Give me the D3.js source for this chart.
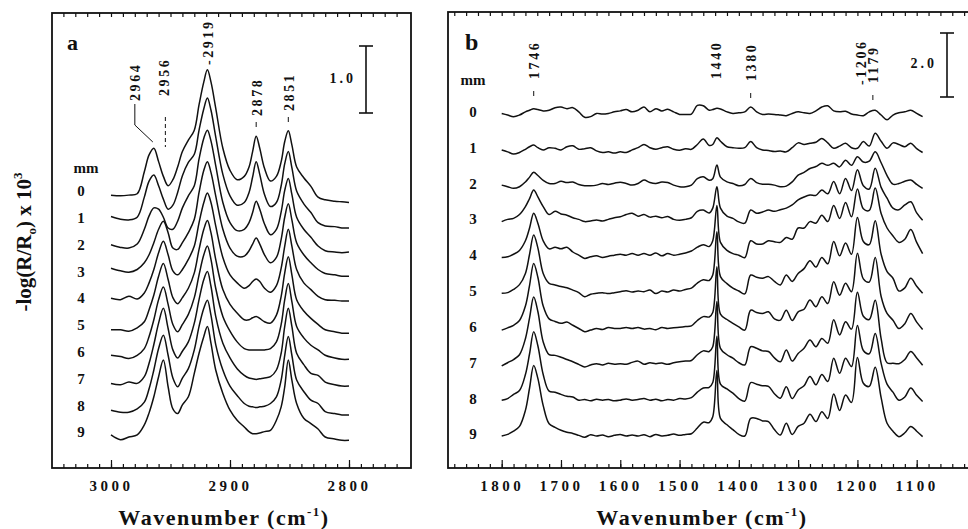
<!DOCTYPE html>
<html>
<head>
<meta charset="utf-8">
<script src="https://cdn.jsdelivr.net/npm/d3@7"></script>
<style>
  body { margin: 0; background: #fff; }
  svg text { font-family: "Liberation Serif", "Times New Roman", serif; font-weight: bold; fill: #111; }
</style>
</head>
<body>
<div id="chart"></div>
<script>
// Depth profile spectra

const depthLabels = ['0', '1', '2', '3', '4', '5', '6', '7', '8', '9'];

// Panel a: C-H stretching region (values relative to each trace's baseline)
const wavenumbersA = [
    3000, 2992, 2985, 2978, 2972, 2968, 2964, 2960, 2956, 2952,
    2948, 2944, 2940, 2935, 2930, 2926, 2922, 2919, 2916, 2912,
    2906, 2900, 2894, 2888, 2884, 2881, 2878, 2875, 2871, 2866,
    2861, 2857, 2854, 2851, 2848, 2844, 2838, 2832, 2826, 2820,
    2812, 2806, 2800
];

const spectraA = [
    [0.01, 0.00, 0.01, 0.03, 0.36, 0.61, 0.71, 0.51, 0.29, 0.15,
     0.24, 0.43, 0.66, 0.83, 0.98, 1.36, 1.70, 1.88, 1.70, 1.31,
     0.71, 0.38, 0.24, 0.29, 0.43, 0.66, 0.89, 0.71, 0.41, 0.22,
     0.29, 0.51, 0.81, 0.97, 0.76, 0.43, 0.27, 0.14, -0.02, -0.06,
     -0.08, -0.09, -0.10],
    [0.09, 0.05, 0.04, 0.08, 0.38, 0.62, 0.71, 0.55, 0.35, 0.20,
     0.26, 0.45, 0.70, 0.90, 1.02, 1.38, 1.70, 1.86, 1.68, 1.28,
     0.72, 0.40, 0.26, 0.30, 0.45, 0.68, 0.91, 0.72, 0.42, 0.24,
     0.30, 0.55, 0.88, 1.06, 0.82, 0.47, 0.28, 0.15, 0.00, -0.05,
     -0.06, -0.08, -0.08],
    [0.07, 0.03, 0.02, 0.08, 0.30, 0.50, 0.62, 0.60, 0.48, 0.32,
     0.30, 0.42, 0.62, 0.80, 0.95, 1.35, 1.66, 1.78, 1.62, 1.25,
     0.70, 0.40, 0.28, 0.30, 0.40, 0.55, 0.72, 0.60, 0.38, 0.22,
     0.30, 0.56, 0.88, 1.06, 0.82, 0.48, 0.30, 0.18, 0.05, -0.02,
     -0.04, -0.05, -0.04],
    [0.12, 0.08, 0.06, 0.10, 0.20, 0.32, 0.50, 0.70, 0.82, 0.65,
     0.42, 0.40, 0.50, 0.65, 0.85, 1.25, 1.58, 1.71, 1.55, 1.20,
     0.70, 0.42, 0.30, 0.30, 0.38, 0.48, 0.57, 0.48, 0.32, 0.20,
     0.28, 0.55, 0.88, 1.08, 0.84, 0.50, 0.32, 0.20, 0.10, 0.04,
     0.02, 0.00, 0.00],
    [0.07, 0.05, 0.10, 0.06, 0.15, 0.30, 0.50, 0.75, 0.92, 0.72,
     0.48, 0.42, 0.50, 0.65, 0.85, 1.20, 1.50, 1.64, 1.50, 1.15,
     0.68, 0.42, 0.30, 0.22, 0.26, 0.32, 0.36, 0.32, 0.22, 0.16,
     0.26, 0.52, 0.85, 1.10, 0.85, 0.50, 0.30, 0.20, 0.10, 0.05,
     0.04, 0.03, 0.03],
    [0.00, 0.00, -0.02, 0.03, 0.12, 0.30, 0.52, 0.80, 0.99, 0.75,
     0.48, 0.39, 0.48, 0.62, 0.85, 1.20, 1.50, 1.63, 1.45, 1.05,
     0.60, 0.38, 0.25, 0.15, 0.15, 0.18, 0.20, 0.17, 0.12, 0.10,
     0.22, 0.50, 0.85, 1.09, 0.82, 0.45, 0.28, 0.17, 0.08, 0.00,
     -0.03, -0.05, -0.05],
    [0.02, 0.00, -0.03, 0.02, 0.12, 0.30, 0.55, 0.85, 1.04, 0.78,
     0.48, 0.37, 0.48, 0.63, 0.88, 1.22, 1.52, 1.65, 1.45, 1.02,
     0.60, 0.38, 0.22, 0.12, 0.10, 0.10, 0.10, 0.10, 0.10, 0.12,
     0.22, 0.48, 0.85, 1.09, 0.82, 0.45, 0.28, 0.17, 0.10, 0.02,
     -0.02, -0.04, -0.04],
    [0.00, -0.02, 0.02, 0.00, 0.10, 0.30, 0.58, 0.90, 1.12, 0.82,
     0.50, 0.38, 0.48, 0.62, 0.90, 1.25, 1.55, 1.67, 1.45, 1.00,
     0.60, 0.38, 0.22, 0.12, 0.08, 0.07, 0.06, 0.07, 0.08, 0.10,
     0.20, 0.45, 0.85, 1.12, 0.85, 0.45, 0.28, 0.15, 0.12, 0.02,
     -0.02, -0.04, -0.04],
    [0.00, -0.03, -0.03, 0.02, 0.12, 0.32, 0.60, 0.92, 1.12, 0.82,
     0.48, 0.35, 0.48, 0.62, 0.90, 1.25, 1.52, 1.64, 1.42, 0.98,
     0.60, 0.36, 0.22, 0.10, 0.06, 0.05, 0.04, 0.05, 0.06, 0.10,
     0.20, 0.45, 0.82, 1.10, 0.82, 0.45, 0.28, 0.15, 0.10, -0.02,
     -0.05, -0.07, -0.07],
    [0.03, -0.04, 0.00, 0.03, 0.18, 0.36, 0.60, 0.90, 1.15, 0.75,
     0.42, 0.35, 0.48, 0.60, 0.95, 1.25, 1.50, 1.65, 1.40, 1.00,
     0.65, 0.40, 0.25, 0.15, 0.08, 0.05, 0.05, 0.06, 0.08, 0.10,
     0.25, 0.45, 0.75, 1.15, 0.85, 0.50, 0.28, 0.20, 0.12, 0.00,
     -0.03, -0.05, -0.05]
];

const tickLabelsA = [3000, 2900, 2800];
const peakLabelsA = ['2964', '2956', '-2919', '2878', '2851'];
const peakWavenumbersA = [2964, 2956, 2919, 2878, 2851];
const scaleBarA = 1.0;

// Panel b: fingerprint region
const wavenumbersB = [
    1800, 1790, 1780, 1770, 1760, 1753, 1746, 1739, 1730, 1720,
    1710, 1700, 1690, 1680, 1670, 1660, 1650, 1640, 1630, 1620,
    1610, 1600, 1590, 1580, 1570, 1560, 1550, 1540, 1530, 1520,
    1510, 1500, 1490, 1480, 1470, 1460, 1450, 1444, 1437, 1431,
    1420, 1410, 1400, 1390, 1380, 1370, 1360, 1350, 1340, 1330,
    1320, 1310, 1300, 1290, 1280, 1270, 1260, 1250, 1240, 1230,
    1220, 1210, 1200, 1190, 1180, 1170, 1160, 1150, 1140, 1130,
    1120, 1110, 1100, 1090
];

const spectraB = [
    [0.00, -0.05, -0.10, -0.05, 0.05, 0.10, 0.15, 0.12, 0.08, 0.10,
     0.18, 0.20, 0.15, 0.18, 0.05, -0.12, -0.10, 0.00, -0.02, 0.00,
     0.05, 0.08, 0.12, 0.05, 0.10, 0.20, 0.05, 0.15, 0.08, 0.13,
     0.05, -0.03, -0.03, -0.02, 0.25, 0.24, 0.10, 0.12, 0.16, 0.14,
     0.05, 0.00, 0.02, 0.05, 0.20, 0.05, -0.03, -0.02, -0.03, -0.05,
     -0.07, 0.00, 0.05, 0.02, 0.00, 0.08, 0.20, 0.24, 0.08, 0.05,
     0.07, -0.02, -0.05, -0.07, 0.05, 0.10, -0.05, -0.20, -0.05, 0.02,
     0.05, 0.10, 0.00, -0.10],
    [-0.02, -0.08, -0.15, -0.10, 0.00, 0.08, 0.13, 0.05, -0.02, 0.05,
     0.03, -0.02, 0.08, 0.11, 0.00, 0.02, 0.05, -0.05, -0.10, -0.08,
     -0.12, -0.08, -0.10, -0.02, 0.05, 0.15, 0.05, 0.00, 0.05, 0.08,
     0.00, -0.03, 0.02, 0.00, 0.15, 0.32, 0.12, 0.15, 0.36, 0.25,
     0.08, 0.05, 0.03, 0.05, 0.24, 0.05, -0.02, -0.04, -0.07, -0.05,
     -0.08, 0.05, 0.20, 0.15, 0.19, 0.22, 0.34, 0.20, 0.03, 0.10,
     0.19, 0.05, 0.03, 0.24, 0.10, 0.50, 0.25, 0.03, 0.20, 0.15,
     0.08, 0.19, 0.02, -0.10],
    [0.00, -0.05, -0.10, -0.05, 0.10, 0.25, 0.40, 0.30, 0.15, 0.05,
     0.05, 0.12, 0.08, 0.10, 0.02, -0.02, -0.02, 0.00, 0.05, 0.02,
     0.06, 0.09, 0.05, 0.00, 0.05, 0.16, 0.08, 0.05, 0.10, 0.08,
     0.00, -0.05, -0.05, 0.00, 0.20, 0.26, 0.15, 0.20, 0.63, 0.25,
     0.10, 0.05, -0.02, 0.02, 0.21, 0.08, 0.03, 0.03, 0.00, -0.05,
     -0.03, 0.10, 0.31, 0.40, 0.52, 0.58, 0.68, 0.62, 0.68, 0.57,
     0.78, 0.62, 0.89, 0.72, 0.75, 1.04, 0.70, 0.30, 0.03, 0.05,
     0.12, 0.16, 0.02, -0.10],
    [-0.02, 0.05, 0.08, 0.20, 0.45, 0.70, 0.97, 0.75, 0.45, 0.20,
     0.30, 0.22, 0.18, 0.10, 0.05, -0.02, 0.00, 0.03, 0.00, 0.05,
     0.10, 0.13, 0.20, 0.24, 0.15, 0.20, 0.12, 0.15, 0.10, 0.14,
     0.05, 0.02, 0.05, 0.10, 0.30, 0.34, 0.25, 0.40, 1.07, 0.40,
     0.15, 0.08, -0.03, -0.07, 0.34, 0.24, 0.28, 0.34, 0.30, 0.35,
     0.40, 0.50, 0.66, 0.75, 0.81, 0.80, 0.97, 0.85, 1.23, 0.85,
     1.33, 0.95, 1.60, 1.10, 1.00, 1.65, 1.05, 0.71, 0.40, 0.35,
     0.50, 0.60, 0.25, 0.02],
    [-0.02, 0.00, 0.08, 0.20, 0.50, 0.90, 1.36, 1.05, 0.50, 0.25,
     0.30, 0.25, 0.30, 0.15, 0.05, -0.05, 0.00, 0.03, -0.02, 0.02,
     0.05, 0.08, 0.05, 0.10, 0.05, 0.10, 0.05, 0.12, 0.03, 0.10,
     0.05, 0.08, 0.12, 0.18, 0.30, 0.38, 0.32, 0.50, 1.60, 0.45,
     0.20, 0.10, 0.05, -0.03, 0.50, 0.40, 0.40, 0.50, 0.47, 0.45,
     0.60, 0.55, 0.90, 0.90, 1.10, 1.05, 1.30, 1.10, 1.60, 1.20,
     1.70, 1.25, 2.12, 1.50, 1.45, 2.15, 1.35, 0.90, 0.65, 0.45,
     0.55, 0.85, 0.45, 0.10],
    [-0.02, 0.00, 0.10, 0.25, 0.60, 1.20, 1.80, 1.40, 0.60, 0.29,
     0.24, 0.19, 0.15, 0.08, 0.00, -0.13, -0.05, -0.02, 0.00, -0.03,
     0.00, 0.03, 0.06, 0.02, 0.05, 0.03, 0.08, -0.03, 0.05, 0.02,
     0.08, 0.05, 0.10, 0.14, 0.30, 0.40, 0.38, 0.55, 1.90, 0.50,
     0.28, 0.14, 0.05, -0.04, 0.55, 0.48, 0.45, 0.50, 0.35, 0.24,
     0.55, 0.35, 0.60, 0.75, 1.00, 0.80, 1.10, 0.90, 1.60, 1.15,
     1.55, 1.20, 2.35, 1.60, 1.50, 2.25, 1.20, 0.66, 0.45, 0.05,
     0.15, 0.45, 0.20, -0.02],
    [-0.05, 0.02, 0.10, 0.25, 0.70, 1.35, 2.03, 1.60, 0.70, 0.30,
     0.22, 0.16, 0.20, 0.10, 0.00, -0.10, -0.05, 0.00, -0.03, 0.03,
     0.00, 0.00, 0.03, 0.00, 0.03, -0.02, 0.00, -0.04, 0.03, 0.00,
     0.02, 0.04, 0.06, 0.08, 0.25, 0.37, 0.36, 0.50, 1.93, 0.45,
     0.28, 0.16, 0.05, -0.05, 0.57, 0.50, 0.47, 0.52, 0.30, 0.26,
     0.57, 0.25, 0.52, 0.60, 0.89, 0.68, 0.99, 0.78, 1.46, 1.04,
     1.41, 1.15, 2.35, 1.55, 1.45, 2.22, 1.00, 0.47, 0.26, 0.00,
     0.15, 0.47, 0.20, -0.03],
    [-0.05, 0.05, 0.15, 0.30, 0.80, 1.45, 2.10, 1.65, 0.70, 0.30,
     0.28, 0.22, 0.15, 0.08, 0.00, -0.08, -0.02, 0.02, -0.02, 0.03,
     0.00, 0.02, 0.00, 0.06, 0.10, 0.00, 0.05, 0.02, 0.04, 0.00,
     0.05, 0.08, 0.10, 0.12, 0.30, 0.42, 0.40, 0.55, 1.96, 0.50,
     0.30, 0.19, 0.05, -0.02, 0.55, 0.50, 0.42, 0.40, 0.20, 0.08,
     0.45, 0.10, 0.34, 0.50, 0.76, 0.55, 0.81, 0.66, 1.39, 0.92,
     1.33, 1.10, 2.25, 1.50, 1.40, 2.00, 0.80, 0.05, 0.03, 0.02,
     0.15, 0.40, 0.20, -0.03],
    [0.00, 0.05, 0.18, 0.30, 0.80, 1.45, 2.14, 1.70, 0.80, 0.28,
     0.25, 0.18, 0.12, 0.10, 0.00, 0.02, -0.02, 0.03, 0.00, 0.02,
     -0.02, 0.00, 0.04, 0.00, 0.02, 0.05, 0.00, 0.03, -0.02, 0.02,
     0.00, 0.05, 0.04, 0.08, 0.25, 0.38, 0.40, 0.55, 2.00, 0.50,
     0.35, 0.22, 0.05, -0.03, 0.55, 0.50, 0.45, 0.43, 0.20, 0.06,
     0.42, 0.05, 0.32, 0.45, 0.74, 0.48, 0.80, 0.58, 1.31, 0.84,
     1.31, 1.05, 2.33, 1.55, 1.45, 2.08, 1.15, 0.50, 0.25, 0.00,
     0.10, 0.38, 0.15, -0.04],
    [0.00, 0.05, 0.15, 0.30, 0.80, 1.50, 2.20, 1.80, 0.95, 0.38,
     0.27, 0.18, 0.12, 0.08, 0.02, -0.04, 0.04, 0.00, 0.03, -0.02,
     0.02, 0.05, 0.00, 0.03, 0.00, 0.04, -0.02, 0.05, 0.00, 0.02,
     0.06, 0.02, 0.05, 0.07, 0.25, 0.43, 0.42, 0.60, 2.05, 0.55,
     0.35, 0.20, 0.05, 0.00, 0.55, 0.55, 0.47, 0.45, 0.20, 0.03,
     0.40, 0.05, 0.30, 0.40, 0.68, 0.45, 0.76, 0.55, 1.31, 0.80,
     1.28, 1.05, 2.45, 1.65, 1.55, 2.15, 1.20, 0.40, 0.15, -0.02,
     0.10, 0.30, 0.15, -0.02]
];

const tickLabelsB = [1800, 1700, 1600, 1500, 1400, 1300, 1200, 1100];
const peakLabelsB = ['1746', '1440', '1380', '-1206', '1179'];
const peakWavenumbersB = [1746, 1440, 1380, 1206, 1179];
const scaleBarB = 2.0;

// Sanity check on the hand-typed arrays
function checkLengths(grid, spectra, name) {
    spectra.forEach((s, i) => {
        if (s.length !== grid.length) {
            throw new Error(`${name} trace ${i}: ${s.length} values, expected ${grid.length}`);
        }
    });
}
checkLengths(wavenumbersA, spectraA, 'panel a');
checkLengths(wavenumbersB, spectraB, 'panel b');

const width = 968;
const height = 529;
const ink = '#111';

const svg = d3.select('#chart')
    .append('svg')
    .attr('width', width)
    .attr('height', height);

// Frame, inward ticks top and bottom, tick labels
function drawFrame(g, p, x) {
    g.append('rect')
        .attr('x', p.left)
        .attr('y', p.top)
        .attr('width', p.right - p.left)
        .attr('height', p.bottom - p.top)
        .attr('fill', 'none')
        .attr('stroke', ink)
        .attr('stroke-width', 1.8);

    const minor = d3.range(p.minorFrom, p.minorTo - 1, -p.minorStep);

    const styleAxis = a => {
        a.select('.domain').remove();
        a.selectAll('line').attr('stroke', ink).attr('stroke-width', 1.2);
    };

    g.append('g')
        .attr('transform', `translate(0,${p.bottom})`)
        .call(d3.axisBottom(x).tickValues(minor).tickSize(-4).tickFormat(''))
        .call(styleAxis);

    g.append('g')
        .attr('transform', `translate(0,${p.top})`)
        .call(d3.axisTop(x).tickValues(minor).tickSize(-4).tickFormat(''))
        .call(styleAxis);

    const major = g.append('g')
        .attr('transform', `translate(0,${p.bottom})`)
        .call(d3.axisBottom(x).tickValues(p.ticks).tickSize(-8).tickPadding(12).tickFormat(d3.format('d')))
        .call(styleAxis);

    major.selectAll('text')
        .style('font-family', '"Liberation Serif", serif')
        .style('font-weight', 'bold')
        .style('font-size', '15px')
        .style('letter-spacing', '3.5px')
        .attr('fill', ink);

    // x-axis title
    const title = g.append('text')
        .attr('x', p.titleX)
        .attr('y', 525)
        .attr('text-anchor', 'middle')
        .style('font-size', '22px')
        .style('letter-spacing', '1.5px')
        .text('Wavenumber (cm');
    title.append('tspan')
        .attr('dy', -9)
        .style('font-size', '13px')
        .text('-1');
    title.append('tspan')
        .attr('dy', 9)
        .text(')');
}

// Stacked spectra, trace 0 on top
function drawSpectra(g, grid, spectra, x, y, step) {
    const n = spectra.length;
    spectra.forEach((trace, k) => {
        const line = d3.line()
            .x((d, i) => x(grid[i]))
            .y(d => y(d + (n - 1 - k) * step))
            .curve(d3.curveCatmullRom.alpha(0.5));

        g.append('path')
            .datum(trace)
            .attr('fill', 'none')
            .attr('stroke', ink)
            .attr('stroke-width', 1.5)
            .attr('stroke-linejoin', 'round')
            .attr('d', line);
    });
}

function drawDepthLabels(g, p, y, step) {
    const n = depthLabels.length;
    g.append('text')
        .attr('x', p.mmX)
        .attr('y', p.mmY)
        .attr('text-anchor', 'middle')
        .attr('dominant-baseline', 'middle')
        .style('font-size', '15px')
        .text('mm');

    g.selectAll('.depth')
        .data(depthLabels)
        .enter()
        .append('text')
        .attr('class', 'depth')
        .attr('x', p.depthX)
        .attr('y', (d, k) => y((n - 1 - k) * step) + p.depthDy)
        .attr('text-anchor', 'middle')
        .attr('dominant-baseline', 'middle')
        .style('font-size', '15px')
        .text(d => d);
}

// Rotated peak label, reading bottom to top
function peakText(g, text, px, bottom) {
    g.append('text')
        .attr('transform', `translate(${px},${bottom}) rotate(-90)`)
        .attr('dy', '0.35em')
        .style('font-size', '14px')
        .style('letter-spacing', '2.6px')
        .text(text);
}

function drawScaleBar(g, y, value, bx, bottomPx, labelX) {
    const len = y(0) - y(value);
    const top = bottomPx - len;
    g.append('line').attr('x1', bx).attr('x2', bx).attr('y1', top).attr('y2', bottomPx)
        .attr('stroke', ink).attr('stroke-width', 1.6);
    [top, bottomPx].forEach(v => {
        g.append('line').attr('x1', bx - 7).attr('x2', bx + 7).attr('y1', v).attr('y2', v)
            .attr('stroke', ink).attr('stroke-width', 1.6);
    });
    g.append('text')
        .attr('x', labelX)
        .attr('y', (top + bottomPx) / 2)
        .attr('text-anchor', 'end')
        .attr('dominant-baseline', 'middle')
        .style('font-size', '14px')
        .style('letter-spacing', '3px')
        .text(value.toFixed(1));
}

// Panel a
function createPanelA() {
    const p = {
        left: 52, right: 411, top: 13, bottom: 468,
        ticks: tickLabelsA, minorFrom: 3040, minorTo: 2760, minorStep: 10,
        titleX: 224, depthX: 81, mmX: 86, mmY: 170, depthDy: -3
    };
    const g = svg.append('g');
    const x = d3.scaleLinear().domain([3000, 2800]).range([111, 349]);
    const y = d3.scaleLinear().domain([0, 1]).range([437, 370]);
    const step = 0.4;

    drawFrame(g, p, x);
    drawSpectra(g, wavenumbersA, spectraA, x, y, step);
    drawDepthLabels(g, p, y, step);

    g.append('text').attr('x', 67).attr('y', 50).style('font-size', '22px').text('a');

    // peak labels with their leaders
    const px = peakWavenumbersA.map(w => x(w));
    const labelX = [px[0] - 19, px[1] + 1, px[2] + 1, px[3] + 1, px[4] + 1];
    const labelBottom = [101, 96, 65, 116, 111];
    peakLabelsA.forEach((t, i) => peakText(g, t, labelX[i], labelBottom[i]));

    g.append('path')
        .attr('d', d3.line()([[labelX[0], 104], [labelX[0], 125], [px[0] - 1, 142]]))
        .attr('fill', 'none').attr('stroke', ink).attr('stroke-width', 1);
    g.append('line')
        .attr('x1', px[1] + 2).attr('x2', px[1] + 2).attr('y1', 117).attr('y2', 147)
        .attr('stroke', ink).attr('stroke-width', 1).attr('stroke-dasharray', '4,3');
    [3, 4].forEach(i => {
        g.append('line')
            .attr('x1', px[i]).attr('x2', px[i])
            .attr('y1', labelBottom[i] + 6).attr('y2', labelBottom[i] + 11)
            .attr('stroke', ink).attr('stroke-width', 1);
    });

    drawScaleBar(g, y, scaleBarA, 366, 113, 356);
}

// Panel b
function createPanelB() {
    const p = {
        left: 448, right: 975, top: 12, bottom: 468,
        ticks: tickLabelsB, minorFrom: 1880, minorTo: 1020, minorStep: 20,
        titleX: 702, depthX: 473, mmX: 473, mmY: 82, depthDy: 0
    };
    const g = svg.append('g');
    const x = d3.scaleLinear().domain([1800, 1100]).range([501.7, 916.7]);
    const y = d3.scaleLinear().domain([0, 1]).range([436, 404]);
    const step = 1.12;

    drawFrame(g, p, x);
    drawSpectra(g, wavenumbersB, spectraB, x, y, step);
    drawDepthLabels(g, p, y, step);

    g.append('text').attr('x', 465).attr('y', 50).style('font-size', '24px').text('b');

    const px = peakWavenumbersB.map(w => x(w));
    const labelX = [px[0], px[1] + 1, px[2], px[3] + 7, px[4] + 3];
    const labelBottom = [79, 79, 81, 85, 83];
    peakLabelsB.forEach((t, i) => peakText(g, t, labelX[i], labelBottom[i]));
    [0, 2, 4].forEach(i => {
        g.append('line')
            .attr('x1', labelX[i]).attr('x2', labelX[i])
            .attr('y1', labelBottom[i] + 12).attr('y2', labelBottom[i] + 17)
            .attr('stroke', ink).attr('stroke-width', 1);
    });

    drawScaleBar(g, y, scaleBarB, 947, 97, 937);
}

// Shared y-axis title
function createYTitle() {
    const t = svg.append('text')
        .attr('transform', 'translate(31,242) rotate(-90)')
        .attr('text-anchor', 'middle')
        .style('font-size', '21px')
        .text('-log(R/R');
    t.append('tspan').attr('dy', 5).style('font-size', '13px').text('o');
    t.append('tspan').attr('dy', -5).text(') x 10');
    t.append('tspan').attr('dy', -9).style('font-size', '13px').text('3');
}

createPanelA();
createPanelB();
createYTitle();
</script>
</body>
</html>
